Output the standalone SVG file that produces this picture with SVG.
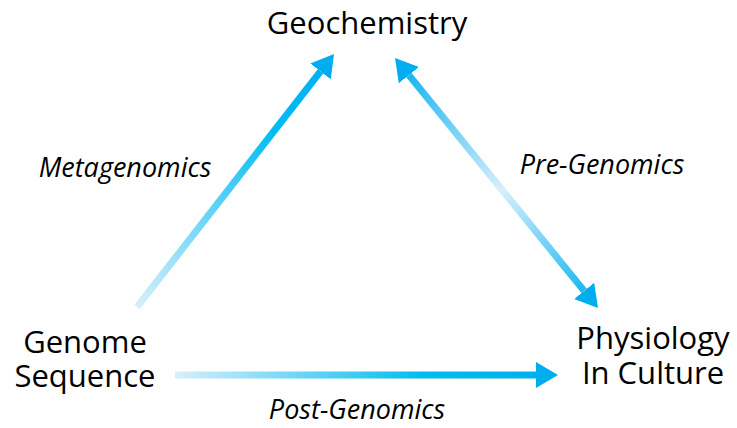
<svg xmlns="http://www.w3.org/2000/svg" width="737" height="428" viewBox="0 0 737 428">
  <style>
    .node { font-family: "Open Sans", "Liberation Sans", sans-serif; font-size: 31px; fill: #000; text-anchor: middle; }
    .lbl { font-family: "Open Sans", "Liberation Sans", sans-serif; font-size: 27px; font-style: italic; fill: #000; text-anchor: middle; }
    .shaft { stroke-width: 7; fill: none; }
  </style>
  <defs>
    <marker id="head" markerUnits="userSpaceOnUse" markerWidth="22" markerHeight="26" viewBox="0 0 22 26" refX="0" refY="13" orient="auto-start-reverse">
      <path d="M0,0 L22,13 L0,26 z" fill="#00aeef"/>
    </marker>
    <linearGradient id="g1" gradientUnits="userSpaceOnUse" x1="137" y1="307" x2="334" y2="54">
      <stop offset="0" stop-color="#d8effb"/>
      <stop offset="0.7" stop-color="#00bcf2"/>
      <stop offset="1" stop-color="#00aeef"/>
    </linearGradient>
    <linearGradient id="g2" gradientUnits="userSpaceOnUse" x1="395" y1="58" x2="598" y2="308">
      <stop offset="0" stop-color="#00aeef"/>
      <stop offset="0.53" stop-color="#d8effb"/>
      <stop offset="1" stop-color="#00aeef"/>
    </linearGradient>
    <linearGradient id="g3" gradientUnits="userSpaceOnUse" x1="175" y1="375" x2="558" y2="375">
      <stop offset="0" stop-color="#d8effb"/>
      <stop offset="0.65" stop-color="#00bcf2"/>
      <stop offset="1" stop-color="#00aeef"/>
    </linearGradient>
  </defs>
  <g id="connectors">
    <line class="shaft" x1="137" y1="307" x2="320.5" y2="71.4" stroke="url(#g1)" marker-end="url(#head)"/>
    <line class="shaft" x1="408.9" y1="75.1" x2="584.1" y2="290.9" stroke="url(#g2)" marker-start="url(#head)" marker-end="url(#head)"/>
    <line class="shaft" x1="175" y1="375" x2="536" y2="375" stroke="url(#g3)" marker-end="url(#head)"/>
    <text class="lbl" x="125" y="177">Metagenomics</text>
    <text class="lbl" x="602" y="174">Pre-Genomics</text>
    <text class="lbl" x="357" y="419">Post-Genomics</text>
  </g>
  <g id="geochemistry">
    <text class="node" x="367" y="34">Geochemistry</text>
  </g>
  <g id="genome-sequence">
    <text class="node" x="85" y="353">Genome<tspan x="85" dy="34">Sequence</tspan></text>
  </g>
  <g id="physiology">
    <text class="node" x="653" y="349">Physiology<tspan x="653" dy="35">In Culture</tspan></text>
  </g>
</svg>
